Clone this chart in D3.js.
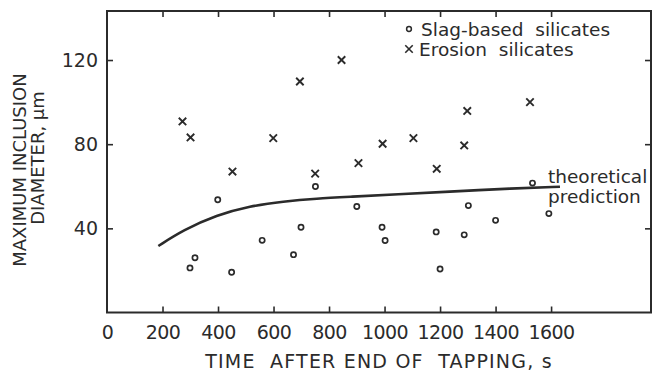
<!DOCTYPE html>
<html>
<head>
<meta charset="utf-8">
<script src="https://cdn.jsdelivr.net/npm/d3@7"></script>
<style>
  body { margin: 0; background: #fff; }
  svg { display: block; font-family: "DejaVu Sans", sans-serif; }
</style>
</head>
<body>
<div id="chart"></div>
<script>
// slag-based silicates (circles): [time s, diameter um]
const slagTime = [299, 317, 399, 449, 559, 672, 699, 751, 900, 991, 1002, 1186, 1200, 1287, 1302, 1400, 1533, 1592];
const slagDiam = [21.2, 26, 53.6, 19.1, 34.3, 27.5, 40.5, 59.9, 50.4, 40.5, 34.2, 38.3, 20.7, 36.9, 50.8, 43.8, 61.5, 47];

// erosion silicates (crosses)
const erosionTime = [272, 301, 452, 599, 695, 750, 845, 906, 993, 1104, 1188, 1287, 1298, 1524];
const erosionDiam = [90.8, 83.2, 67, 82.9, 109.8, 66, 120, 71, 80.2, 82.9, 68.3, 79.4, 95.8, 100];

// theoretical prediction curve
const predTime = [185, 275, 395, 515, 635, 756, 876, 1050, 1224, 1464, 1632];
const predDiam = [31.6, 39.2, 46.3, 50.6, 52.8, 54.2, 55.0, 56.2, 57.4, 59.0, 59.8];

const xTicks = [0, 200, 400, 600, 800, 1000, 1200, 1400, 1600];
const yTicks = [40, 80, 120];

const ink = "#2b2b2b";
const W = 662, H = 374;

const svg = d3.select("#chart").append("svg")
    .attr("width", W)
    .attr("height", H);

const x = d3.scaleLinear().domain([0, 1960]).range([107, 651]);
const y = d3.scaleLinear().domain([0, 143.3]).range([312.5, 11]);

// axes (ticks point inward)
const axBottom = svg.append("g")
    .attr("transform", `translate(0,${y(0)})`)
    .call(d3.axisBottom(x).tickValues(xTicks).tickFormat(d3.format("d"))
        .tickSizeInner(-6).tickSizeOuter(0).tickPadding(13));

const axTop = svg.append("g")
    .attr("transform", `translate(0,${y.range()[1]})`)
    .call(d3.axisTop(x).tickValues(xTicks.slice(1)).tickFormat("")
        .tickSizeInner(-6).tickSizeOuter(0));

const axLeft = svg.append("g")
    .attr("transform", `translate(${x(0)},0)`)
    .call(d3.axisLeft(y).tickValues(yTicks)
        .tickSizeInner(-6).tickSizeOuter(0).tickPadding(9));

const axRight = svg.append("g")
    .attr("transform", `translate(${x.range()[1]},0)`)
    .call(d3.axisRight(y).tickValues(yTicks).tickFormat("")
        .tickSizeInner(-6).tickSizeOuter(0));

[axBottom, axTop, axLeft, axRight].forEach(g => {
    g.select(".domain").remove();
    g.selectAll(".tick line").attr("stroke", ink).attr("stroke-width", 1.6);
    g.selectAll("text")
        .attr("fill", ink)
        .style("font-size", "19px")
        .style("font-family", "'DejaVu Sans', sans-serif");
});
axBottom.selectAll(".tick").filter(d => d === 0).select("line").remove();
axBottom.selectAll("text").attr("letter-spacing", -0.6);

// frame
svg.append("rect")
    .attr("x", x.range()[0])
    .attr("y", y.range()[1])
    .attr("width", x.range()[1] - x.range()[0])
    .attr("height", y.range()[0] - y.range()[1])
    .attr("fill", "none")
    .attr("stroke", ink)
    .attr("stroke-width", 2);

// theoretical curve
const predData = predTime.map((t, i) => [t, predDiam[i]]);
svg.append("path")
    .datum(predData)
    .attr("fill", "none")
    .attr("stroke", ink)
    .attr("stroke-width", 2.6)
    .attr("d", d3.line().x(d => x(d[0])).y(d => y(d[1])).curve(d3.curveBasis));

// slag circles
svg.append("g")
    .selectAll("circle")
    .data(slagTime.map((t, i) => [t, slagDiam[i]]))
    .join("circle")
    .attr("cx", d => x(d[0]))
    .attr("cy", d => y(d[1]))
    .attr("r", 2.6)
    .attr("fill", "none")
    .attr("stroke", ink)
    .attr("stroke-width", 1.7);

// erosion crosses
const cross = d3.symbol().type(d3.symbolX).size(38);
svg.append("g")
    .selectAll("path")
    .data(erosionTime.map((t, i) => [t, erosionDiam[i]]))
    .join("path")
    .attr("transform", d => `translate(${x(d[0])},${y(d[1])})`)
    .attr("d", cross)
    .attr("fill", "none")
    .attr("stroke", ink)
    .attr("stroke-width", 1.9);

// legend
const legend = svg.append("g").attr("fill", ink).style("font-size", "18.5px");
legend.append("circle")
    .attr("cx", 409).attr("cy", 29).attr("r", 2.4)
    .attr("fill", "none").attr("stroke", ink).attr("stroke-width", 1.5);
legend.append("text")
    .attr("x", 421).attr("y", 29).attr("dy", "0.36em")
    .style("white-space", "pre")
    .text("Slag-based  silicates");
legend.append("path")
    .attr("transform", "translate(409,49)")
    .attr("d", cross)
    .attr("fill", "none").attr("stroke", ink).attr("stroke-width", 1.6);
legend.append("text")
    .attr("x", 419).attr("y", 49).attr("dy", "0.36em")
    .style("white-space", "pre")
    .text("Erosion  silicates");

// curve annotation
const note = svg.append("g").attr("fill", ink).style("font-size", "18.5px");
note.append("text").attr("x", 548).attr("y", 176).attr("dy", "0.36em").text("theoretical");
note.append("text").attr("x", 548).attr("y", 196).attr("dy", "0.36em").text("prediction");

// axis titles
svg.append("text")
    .attr("x", 379).attr("y", 361).attr("dy", "0.36em")
    .attr("text-anchor", "middle")
    .attr("fill", ink)
    .attr("letter-spacing", 1.2)
    .style("font-size", "19px")
    .style("white-space", "pre")
    .text("TIME  AFTER END OF  TAPPING, s");

const ytitle = svg.append("g")
    .attr("transform", "translate(0,170) rotate(-90)")
    .attr("fill", ink)
    .style("font-size", "18px")
    .attr("text-anchor", "middle");
ytitle.append("text").attr("x", 0).attr("y", 20).attr("dy", "0.36em").text("MAXIMUM INCLUSION");
ytitle.append("text").attr("x", 12).attr("y", 38).attr("dy", "0.36em").text("DIAMETER, μm");
</script>
</body>
</html>
